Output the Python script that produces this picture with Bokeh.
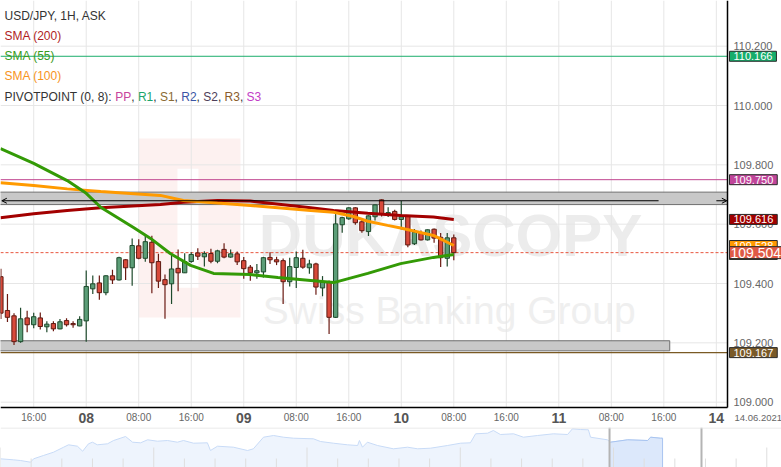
from bokeh.plotting import figure
from bokeh.models import Range1d, Label, Arrow, OpenHead, ColumnDataSource, Span
from bokeh.layouts import column
from bokeh.embed import file_html
from bokeh.resources import INLINE
from bokeh.core.properties import value

# ---------------- data (hours relative to 08.06.2021 00:00, trading hours only) ----------------
hours = list(range(-13, 57))
opens = [109.423, 109.309, 109.291, 109.204, 109.284, 109.261, 109.284, 109.254, 109.265, 109.247,
         109.275, 109.265, 109.257, 109.274, 109.382, 109.402, 109.369, 109.426, 109.412, 109.480,
         109.453, 109.527, 109.485, 109.539, 109.474, 109.413, 109.399, 109.451, 109.436, 109.474,
         109.503, 109.490, 109.501, 109.475, 109.515, 109.489, 109.500, 109.477, 109.455, 109.436,
         109.439, 109.488, 109.480, 109.477, 109.406, 109.454, 109.485, 109.453, 109.466, 109.385,
         109.405, 109.286, 109.598, 109.618, 109.655, 109.608, 109.575, 109.625, 109.682, 109.635,
         109.643, 109.616, 109.627, 109.534, 109.570, 109.547, 109.583, 109.556, 109.485, 109.554]
highs = [109.450, 109.365, 109.300, 109.318, 109.308, 109.301, 109.302, 109.273, 109.273, 109.280,
         109.283, 109.273, 109.290, 109.444, 109.427, 109.427, 109.428, 109.446, 109.490, 109.482,
         109.552, 109.549, 109.565, 109.561, 109.500, 109.430, 109.500, 109.515, 109.502, 109.505,
         109.519, 109.509, 109.517, 109.514, 109.536, 109.515, 109.508, 109.489, 109.462, 109.466,
         109.490, 109.505, 109.490, 109.484, 109.487, 109.508, 109.514, 109.480, 109.470, 109.425,
         109.410, 109.649, 109.625, 109.657, 109.657, 109.618, 109.630, 109.666, 109.684, 109.657,
         109.649, 109.678, 109.630, 109.584, 109.579, 109.582, 109.585, 109.570, 109.570, 109.565]
lows = [109.280, 109.270, 109.193, 109.200, 109.236, 109.249, 109.245, 109.236, 109.239, 109.246,
        109.255, 109.251, 109.256, 109.204, 109.365, 109.345, 109.360, 109.398, 109.410, 109.412,
        109.392, 109.482, 109.473, 109.367, 109.385, 109.281, 109.331, 109.374, 109.435, 109.470,
        109.479, 109.457, 109.468, 109.468, 109.485, 109.487, 109.462, 109.416, 109.409, 109.416,
        109.420, 109.466, 109.462, 109.331, 109.390, 109.385, 109.450, 109.433, 109.362, 109.357,
        109.230, 109.284, 109.571, 109.615, 109.598, 109.571, 109.560, 109.612, 109.626, 109.624,
        109.612, 109.582, 109.522, 109.530, 109.545, 109.545, 109.537, 109.456, 109.457, 109.478]
closes = [109.300, 109.286, 109.204, 109.281, 109.261, 109.288, 109.255, 109.263, 109.247, 109.271,
          109.261, 109.261, 109.279, 109.390, 109.399, 109.369, 109.426, 109.412, 109.487, 109.453,
          109.528, 109.485, 109.541, 109.470, 109.408, 109.396, 109.449, 109.436, 109.474, 109.498,
          109.492, 109.501, 109.475, 109.510, 109.489, 109.500, 109.473, 109.450, 109.436, 109.443,
          109.487, 109.480, 109.473, 109.406, 109.457, 109.487, 109.455, 109.466, 109.388, 109.405,
          109.286, 109.601, 109.622, 109.655, 109.605, 109.578, 109.628, 109.665, 109.635, 109.639,
          109.616, 109.625, 109.530, 109.573, 109.547, 109.581, 109.553, 109.487, 109.554, 109.504]

sma55_t = [-13.06, -8.0, -2.9, 0.0, 2.2, 7.2, 9.8, 12.8, 15.9, 19.4, 25.0, 29.2, 34.2, 37.7, 42.9, 47.9, 52.9, 56.0]
sma55 = [109.855, 109.805, 109.747, 109.704, 109.657, 109.589, 109.552, 109.501, 109.461, 109.434,
         109.430, 109.420, 109.410, 109.403, 109.434, 109.467, 109.488, 109.498]
sma100_t = [-13.06, -8.0, -2.9, 2.2, 11.3, 14.8, 20.0, 25.0, 34.2, 37.7, 40.7, 42.9, 45.9, 47.9, 52.9, 56.0]
sma100 = [109.740, 109.730, 109.719, 109.710, 109.697, 109.680, 109.671, 109.663, 109.646, 109.640,
          109.626, 109.610, 109.596, 109.587, 109.562, 109.528]
sma200_t = [-13.06, -8.0, -2.9, 2.2, 11.3, 14.8, 20.0, 25.0, 34.2, 37.7, 42.9, 47.9, 52.9, 56.0]
sma200 = [109.622, 109.635, 109.646, 109.655, 109.666, 109.674, 109.680, 109.678, 109.655, 109.646,
          109.637, 109.629, 109.624, 109.616]

pivot_r1 = 110.166
pivot_pp = 109.750
pivot_s1 = 109.167
last_price = closes[-1]

# drawn zones (price levels, end hour)
zone_upper = [109.666, 109.708]
zone_upper_line = 109.679
zone_upper_line_end = 87.2
zone_lower = [109.173, 109.207]
zone_lower_end = 88.9

price_ticks = [109.0, 109.2, 109.4, 109.6, 109.8, 110.0, 110.2]
hour_ticks = [-8, 0, 8, 16, 24, 32, 40, 48, 56, 64, 72, 80, 88, 96]
hour_labels = ["16:00", "08", "08:00", "16:00", "09", "08:00", "16:00", "10",
               "08:00", "16:00", "11", "08:00", "16:00", "14"]
date_text = "14.06.2021"

# navigator (overview) series: day index and relative level
nav_days = [0.00, 0.42, 0.65, 0.98, 1.08, 1.40, 1.73, 2.06, 2.22, 2.51, 2.68, 2.87, 3.00, 3.16, 3.49,
            3.69, 4.08, 4.31, 4.57, 4.80, 5.12, 5.45, 5.77, 5.97, 6.30, 6.75, 6.85, 7.08, 7.60, 8.06,
            8.25, 8.58, 8.91, 9.23, 9.56, 10.21, 10.44, 10.86, 11.32, 11.65, 11.71, 11.81, 11.97, 12.30,
            12.82, 13.28, 13.61, 14.03, 14.58, 15.01, 15.33, 15.50, 15.89, 16.08, 16.31, 16.74, 17.06,
            17.52, 18.04, 18.50, 18.66, 18.92, 19.18, 19.25, 19.80, 19.90, 20.46, 21.11, 21.21, 21.53, 21.60]
nav_level = [8.7, 7.7, 7.0, 5.3, 8.7, 12.0, 15.3, 20.3, 22.7, 21.3, 16.3, 23.7, 25.3, 22.7, 23.7,
             27.0, 31.0, 25.3, 24.7, 27.7, 26.3, 27.0, 25.3, 27.0, 24.3, 24.7, 17.0, 21.3, 20.3, 17.0,
             18.7, 30.3, 32.0, 30.3, 29.3, 28.7, 26.0, 24.3, 22.7, 22.0, 27.0, 20.3, 25.3, 22.0,
             18.7, 20.3, 18.7, 19.3, 22.0, 24.3, 24.7, 33.7, 34.3, 37.0, 33.0, 33.7, 30.3,
             32.0, 33.7, 33.0, 38.7, 38.0, 37.7, 30.3, 27.7, 25.3, 27.7, 27.0, 30.3, 29.3, 29.3]
nav_window = [19.87, 22.87]
nav_span_days = 25.48

# ---------------- layout ----------------
FONT = "Liberation Sans"
W = 781
H_MAIN = 427
H_NAV = 40
RIGHT = 54          # width of the price-scale strip
BOTTOM = 20         # height of the time-scale strip
FR_W = W - RIGHT
FR_H = H_MAIN - BOTTOM

T0, T1 = -13.06, 97.7          # visible hours of the price pane
P0, P1 = 108.982, 110.354      # visible prices of the price pane
PXH = FR_W / (T1 - T0)
PXV = FR_H / (P1 - P0)

p = figure(width=W, height=H_MAIN,
           x_range=Range1d(T0, T0 + W / PXH), y_range=Range1d(P0 - BOTTOM / PXV, P1),
           x_axis_location=None, y_axis_location=None,
           toolbar_location=None, output_backend="svg", min_border=0)
p.outline_line_color = None
p.grid.visible = False
p.background_fill_color = "white"

# grid lines (inside price pane only)
p.segment(x0=hour_ticks, y0=[P0] * len(hour_ticks), x1=hour_ticks, y1=[P1] * len(hour_ticks),
          line_color="#e6e6e6", line_width=1)
p.segment(x0=[T0] * len(price_ticks), y0=price_ticks, x1=[T1] * len(price_ticks), y1=price_ticks,
          line_color="#e6e6e6", line_width=1)

# ---------------- watermark ----------------
p.quad(left=[8.0], right=[23.5], bottom=[109.285], top=[109.889], fill_color="#fdf1f0",
       line_color=None, level="image")
p.quad(left=[13.9], right=[17.1], bottom=[109.386], top=[109.787], fill_color="white",
       line_color=None, level="image")
p.text(x=[26.3], y=[109.561], text=["DUKASCOPY"], text_font=value(FONT), text_font_style="bold",
       text_font_size="60px", text_color="#ececec", text_baseline="alphabetic", level="image")
p.text(x=[26.9], y=[109.309], text=["Swiss Banking Group"], text_font=value(FONT),
       text_font_size="39px", text_color="#efefef", text_baseline="alphabetic", level="image")

# ---------------- zones ----------------
p.quad(left=[hours[0] - 0.5], right=[T1], bottom=[zone_upper[0]], top=[zone_upper[1]],
       fill_color="#c8c8c8", line_color="#6e6e6e", line_width=1)
p.quad(left=[hours[0] - 0.5], right=[zone_lower_end], bottom=[zone_lower[0]], top=[zone_lower[1]],
       fill_color="#c8c8c8", line_color="#6e6e6e", line_width=1)
p.add_layout(Arrow(end=OpenHead(size=5, line_color="black", line_width=1),
                   x_start=zone_upper_line_end, y_start=zone_upper_line,
                   x_end=T0 + 0.2, y_end=zone_upper_line, line_color="black", line_width=1.2))
p.add_layout(Arrow(end=OpenHead(size=5, line_color="black", line_width=1),
                   x_start=96.0, y_start=zone_upper_line, x_end=T1 - 0.1, y_end=zone_upper_line,
                   line_color="black", line_width=1.2))

# ---------------- pivot lines and current price ----------------
p.segment(x0=[T0] * 3, y0=[pivot_r1, pivot_pp, pivot_s1], x1=[T1] * 3, y1=[pivot_r1, pivot_pp, pivot_s1],
          line_color=["#1aae6b", "#c0468f", "#7a5a24"], line_width=[1, 1, 1.3])
p.segment(x0=[T0], y0=[last_price], x1=[T1], y1=[last_price], line_color="#e8553e",
          line_width=1, line_dash="3 2")

# ---------------- candles ----------------
inc = [c >= o for o, c in zip(opens, closes)]
src = ColumnDataSource(dict(
    t=hours, o=opens, h=highs, l=lows, c=closes,
    top=[max(o, c) for o, c in zip(opens, closes)],
    bot=[min(o, c) for o, c in zip(opens, closes)],
    fill=["#5c9e78" if u else "#d8493a" for u in inc],
    edge=["#1e4a2c" if u else "#5e1a12" for u in inc],
    wick=["#1e4a2c" if u else "#6b1a12" for u in inc],
))
p.segment(x0="t", y0="h", x1="t", y1="l", line_color="wick", line_width=1.2, source=src)
p.vbar(x="t", top="top", bottom="bot", width=0.66, fill_color="fill", line_color="edge",
       line_width=1, source=src)

# ---------------- moving averages ----------------
p.line(sma200_t, sma200, line_color="#a30000", line_width=3)
p.line(sma100_t, sma100, line_color="#ff9a00", line_width=3)
p.line(sma55_t, sma55, line_color="#339a06", line_width=3)

# ---------------- scale lines ----------------
p.segment(x0=[T1, T0], y0=[P0, P0], x1=[T1, T1], y1=[P1, P0], line_color="black", line_width=1.5)

# price scale labels
p.text(x=[T1 + 6 / PXH] * len(price_ticks), y=price_ticks, text=["%.3f" % v for v in price_ticks],
       text_font=value(FONT), text_font_size="11px", text_color="#666666",
       text_align="left", text_baseline="middle")

# time scale labels
hx = [t for t, l in zip(hour_ticks, hour_labels) if ":" in l]
hl = [l for l in hour_labels if ":" in l]
dx = [t for t, l in zip(hour_ticks, hour_labels) if ":" not in l]
dl = [l for l in hour_labels if ":" not in l]
ylab = P0 - 10 / PXV
p.text(x=hx, y=[ylab] * len(hx), text=hl, text_font=value(FONT), text_font_size="10px",
       text_color="#666666", text_align="center", text_baseline="middle")
p.text(x=dx, y=[ylab] * len(dx), text=dl, text_font=value(FONT), text_font_size="14px",
       text_font_style="bold", text_color="#555555", text_align="center", text_baseline="middle")
p.text(x=[T1 + 7 / PXH], y=[ylab], text=[date_text], text_font=value(FONT), text_font_size="9.5px",
       text_color="#666666", text_align="left", text_baseline="middle")

# ---------------- legend texts ----------------
def lab(x, y, text, color, size="12px", **kw):
    p.add_layout(Label(x=x, y=y, x_units="screen", y_units="screen", text=text, text_color=color,
                       text_font=FONT, text_font_size=size, text_baseline="middle", **kw))

lab(4, H_MAIN - 15, "USD/JPY, 1H, ASK", "#333333")
lab(4, H_MAIN - 35, "SMA (200)", "#b01e1e")
lab(4, H_MAIN - 55, "SMA (55)", "#3a9a1a")
lab(4, H_MAIN - 75, "SMA (100)", "#f7941d")

ARIAL = {"P": 667, "I": 278, "V": 667, "O": 778, "T": 611, "N": 722, " ": 278, "(": 333, ")": 333,
         ",": 278, ":": 278, "R": 722, "S": 667}
def tw(s):
    return sum(ARIAL.get(ch, 556) for ch in s) * 12 / 1000.0

pivot_parts = [("PIVOTPOINT (0, 8): ", "#333333"), ("PP", "#c8449c"), (", ", "#333333"),
               ("R1", "#1ba56a"), (", ", "#333333"), ("S1", "#8a6a32"), (", ", "#333333"),
               ("R2", "#3a55a5"), (", ", "#333333"), ("S2", "#4e3e58"), (", ", "#333333"),
               ("R3", "#8a5c2c"), (", ", "#333333"), ("S3", "#c23cc6")]
xx = 4.0
for s, col in pivot_parts:
    lab(xx, H_MAIN - 96, s, col)
    xx += tw(s)

# ---------------- right-side value tags ----------------
def tag(price, fill, size="11px", pad=(4, 1)):
    p.add_layout(Label(x=FR_W + 2, y=price, x_units="screen", y_units="data", text="%.3f" % price,
                       text_color="white", text_font=FONT, text_font_size=size,
                       text_baseline="middle", background_fill_color=fill,
                       border_line_color="#2a2a2a", border_line_width=1, padding=pad))

tag(pivot_r1, "#17ad6b")
tag(pivot_pp, "#c0459a")
tag(sma200[-1], "#a00000")
tag(sma55[-1], "#3a9a12")
tag(sma100[-1], "#ff9900")
tag(last_price, "#df5a45", size="14px", pad=(1, 1))
tag(pivot_s1, "#7a5a28")

# ---------------- navigator ----------------
nav = figure(width=W, height=H_NAV, x_range=Range1d(0, nav_span_days), y_range=Range1d(0, 40),
             toolbar_location=None, output_backend="svg", x_axis_location=None, y_axis_location=None,
             min_border=0)
nav.outline_line_color = None
nav.grid.visible = False
nav.varea(x=nav_days, y1=0, y2=nav_level, fill_color="#eef4fd")
nav.line(nav_days, nav_level, line_color="#c8dbf7", line_width=1)
sel_x = [d for d in nav_days if d >= nav_window[0]]
sel_y = [v for d, v in zip(nav_days, nav_level) if d >= nav_window[0]]
nav.varea(x=sel_x, y1=0, y2=sel_y, fill_color="#dce8fb")
nav.line(sel_x, sel_y, line_color="#a8c4f0", line_width=1)
nav.segment(x0=[sel_x[-1]], y0=[0], x1=[sel_x[-1]], y1=[sel_y[-1]], line_color="#a8c4f0")
days = list(range(0, 26))
nav.segment(x0=days, y0=[0] * len(days), x1=days, y1=[20 if d % 5 == 0 else 9 for d in days],
            line_color="#dedede", line_width=1)
nav.segment(x0=nav_window, y0=[0, 0], x1=nav_window, y1=[40, 40], line_color="#b4b4b4", line_width=2)
nav.add_layout(Span(location=39.5, dimension="width", line_color="#e4e4e4", line_width=1))

layout = column(p, nav, spacing=0)
open("out.html", "w").write(file_html(layout, INLINE))
